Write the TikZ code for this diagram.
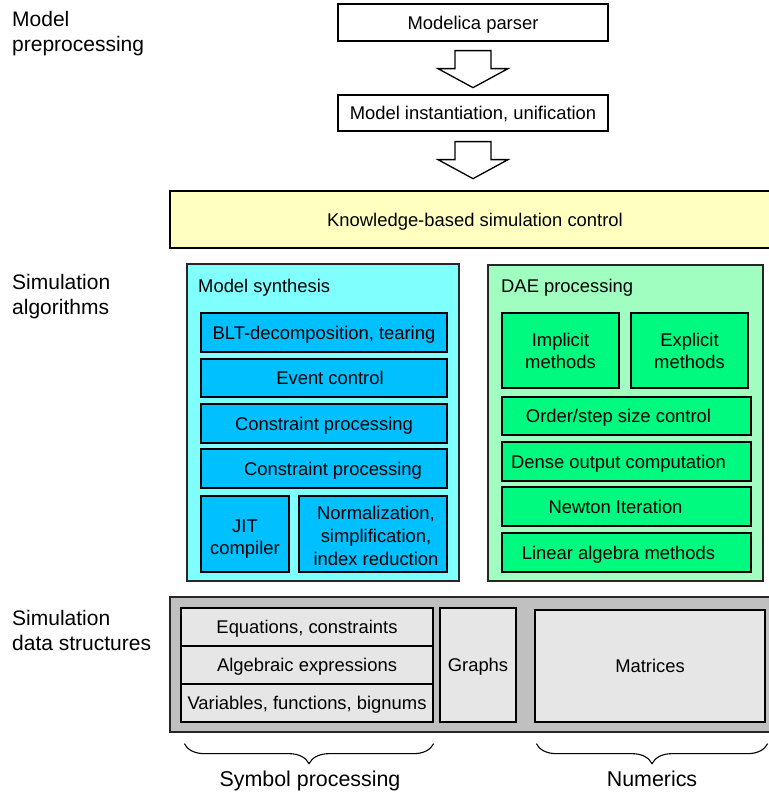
\documentclass[tikz,border=0pt]{standalone}
\usepackage{fontspec}
\setmainfont{Liberation Sans}
\usetikzlibrary{calc,decorations.pathreplacing}

\definecolor{ctrlyellow}{RGB}{255,255,192}
\definecolor{synthpanel}{RGB}{128,255,255}
\definecolor{synthbox}{RGB}{0,192,255}
\definecolor{daepanel}{RGB}{160,255,192}
\definecolor{daebox}{RGB}{0,250,128}
\definecolor{datapanel}{RGB}{192,192,192}
\definecolor{databox}{RGB}{230,230,230}

\begin{document}
\begin{tikzpicture}[x=1pt,y=-1pt,
  font=\fontsize{18.4}{22}\selectfont,
  box/.style={draw=black, line width=1.3pt, inner sep=0pt, align=center},
  oneline/.style={text height=13.2pt, text depth=0pt},
  panel/.style={draw=black!85, line width=2pt, inner sep=0pt},
  stagebox/.style={box, oneline, fill=white},
  synth/.style={box, fill=synthbox},
  dae/.style={box, fill=daebox},
  datab/.style={box, oneline, fill=databox},
  boxtext/.style={anchor=base, inner sep=0pt, align=center},
  sidelabel/.style={anchor=base west, align=left, inner sep=0pt,
    font=\fontsize{21}{25}\selectfont},
  paneltitle/.style={anchor=base west, inner sep=0pt},
  bracelabel/.style={anchor=base, inner sep=0pt, font=\fontsize{21.4}{25}\selectfont},
  bracebelow/.style={decorate, line width=1.1pt,
    decoration={brace, mirror, amplitude=20pt}},
  downarrow/.pic={
    \draw[line width=1.3pt, fill=white, line join=miter]
      (-18,0) -- (18,0) -- (18,18) -- (35,18) -- (0,37)
      -- (-35,18) -- (-18,18) -- cycle;
  }]
\useasboundingbox (0,0) rectangle (768,794);

% ---- model preprocessing ----
\node[stagebox, minimum width=270pt, minimum height=37pt] (parser) at (473,22.5) {Modelica parser};
\node[stagebox, minimum width=270pt, minimum height=36pt] (inst) at (473,113) {Model instantiation, unification};
\pic at ($(parser.south)+(0,9)$) {downarrow};
\pic at ($(inst.south)+(0,10)$) {downarrow};

% ---- simulation control ----
\node[box, oneline, fill=ctrlyellow, line width=1.8pt, minimum width=610pt, minimum height=57pt] (kbsc) at (475,219.5) {Knowledge-based simulation control};

% ---- simulation algorithms ----
\node[panel, fill=synthpanel, minimum width=272pt, minimum height=317pt] (synthp) at (323,422.5) {};
\node[paneltitle] (synthtitle) at (198,292) {Model synthesis};
\node[synth, oneline, minimum width=246pt, minimum height=39pt] (blt) at (324,332.5) {BLT-decomposition, tearing};
\node[synth, oneline, minimum width=246pt, minimum height=38pt] (event) at (324,378) {\hspace*{12pt}Event control};
\node[synth, oneline, minimum width=246pt, minimum height=39pt] (cons1) at (324,423.5) {Constraint processing};
\node[synth, oneline, minimum width=246pt, minimum height=39pt] (cons2) at (324,468.5) {\hspace*{18pt}Constraint processing};
\node[synth, minimum width=88pt, minimum height=76pt] (jit) at (245,534) {};
\node[boxtext, font=\fontsize{18.4}{22}\selectfont] (jittext) at ($(jit.center)+(0,20)$) {JIT\\compiler};
\node[synth, minimum width=148pt, minimum height=76pt] (norm) at (373,534) {};
\node[boxtext, font=\fontsize{18.4}{23}\selectfont] (normtext) at ($(norm.center)+(3,31)$) {Normalization,\\simplification,\\index reduction};

\node[panel, fill=daepanel, minimum width=275pt, minimum height=316pt] (daep) at (625.5,423) {};
\node[paneltitle] (daetitle) at (501,292) {DAE processing};
\node[dae, minimum width=117pt, minimum height=75pt] (impl) at (560.5,350.5) {Implicit\\methods};
\node[dae, minimum width=117pt, minimum height=75pt] (expl) at (689.5,350.5) {Explicit\\methods};
\node[dae, oneline, minimum width=249pt, minimum height=38pt] (order) at (626.5,416) {Order/step size control\hspace*{16pt}};
\node[dae, oneline, minimum width=249pt, minimum height=39pt] (dense) at (626.5,461.5) {Dense output computation\hspace*{16pt}};
\node[dae, oneline, minimum width=249pt, minimum height=39pt] (newton) at (626.5,506.5) {Newton Iteration\hspace*{22pt}};
\node[dae, oneline, minimum width=249pt, minimum height=39pt] (linalg) at (626.5,552.5) {Linear algebra methods\hspace*{16pt}};

% ---- simulation data structures ----
\node[panel, fill=datapanel, minimum width=620pt, minimum height=135pt] (datap) at (480,664.5) {};
\node[datab, minimum width=252pt, minimum height=38pt] (eqs) at (307,627) {Equations, constraints};
\node[datab, minimum width=252pt, minimum height=38pt] (alg) at (307,665) {Algebraic expressions};
\node[datab, minimum width=252pt, minimum height=38pt] (vars) at (307,703) {Variables, functions, bignums};
\node[datab, minimum width=76pt, minimum height=114pt] (graphs) at (478,665) {Graphs};
\node[datab, minimum width=230pt, minimum height=112pt] (matr) at (650,666) {Matrices};

% ---- braces ----
\coordinate (symL) at ($(vars.south west)+(4,21)$);
\coordinate (symR) at ($(vars.south east)+(0,21)$);
\coordinate (numL) at ($(matr.south west)+(2,21)$);
\coordinate (numR) at ($(matr.south east)+(2,21)$);
\draw[bracebelow] (symL) -- (symR);
\draw[bracebelow] (numL) -- (numR);
\node[bracelabel] (symlabel) at (310,786) {Symbol processing};
\node[bracelabel] (numlabel) at (652,786) {Numerics};

% ---- side labels (anchored on the baseline of the last line) ----
\node[sidelabel] (lpre) at (12,52) {Model\\preprocessing};
\node[sidelabel] (lalg) at (12,314) {Simulation\\algorithms};
\node[sidelabel] (ldata) at (12,650) {Simulation\\data structures};
\end{tikzpicture}
\end{document}
